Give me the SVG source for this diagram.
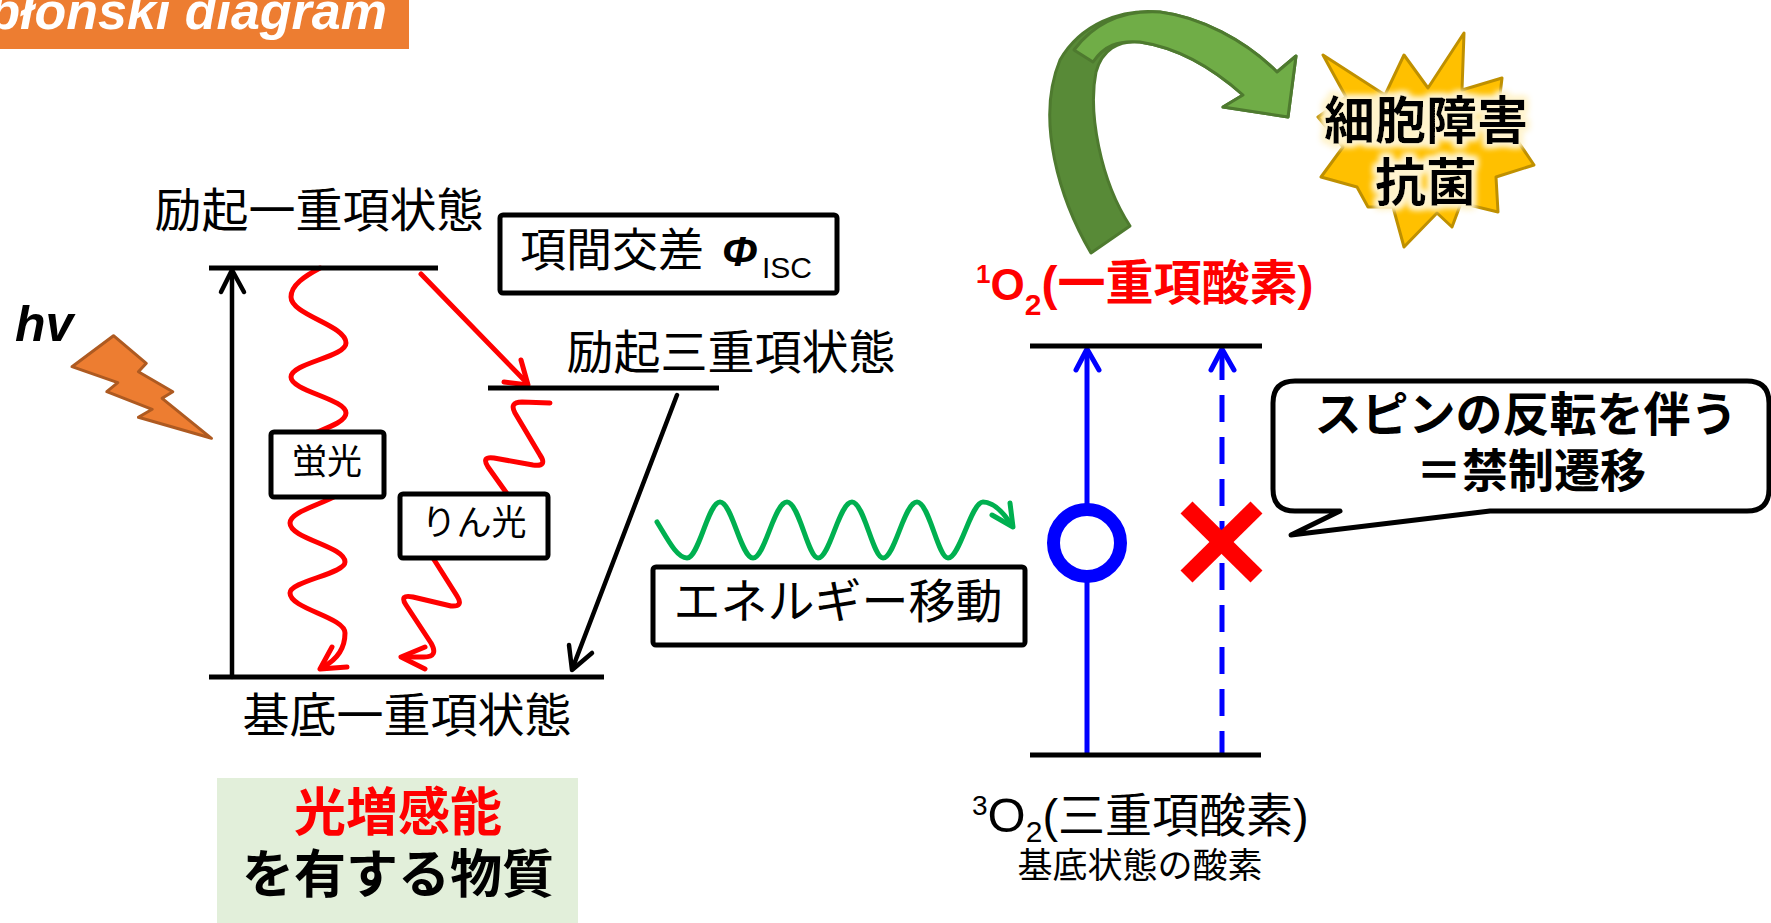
<svg xmlns="http://www.w3.org/2000/svg" width="1771" height="923" viewBox="0 0 1771 923">
  <defs>
    <style>
      .jp { font-family: "Noto Sans CJK JP", sans-serif; }
      .lat { font-family: "Liberation Sans", "Noto Sans CJK JP", sans-serif; }
      .level { stroke: #000; stroke-width: 5; fill: none; }
      .box { fill: #fff; stroke: #000; stroke-width: 5; }
      .blk { stroke: #000; stroke-width: 4.5; fill: none; stroke-linecap: round; stroke-linejoin: round; }
      .red { stroke: #FF0000; stroke-width: 5; fill: none; stroke-linecap: round; stroke-linejoin: round; }
      .blue { stroke: #0000FF; stroke-width: 5; fill: none; stroke-linejoin: round; }
      .green { stroke: #00B050; stroke-width: 5; fill: none; stroke-linecap: round; stroke-linejoin: round; }
    </style>
    <filter id="glow" x="-20%" y="-40%" width="140%" height="180%">
      <feMorphology in="SourceAlpha" operator="dilate" radius="3" result="d"/>
      <feGaussianBlur in="d" stdDeviation="3" result="b"/>
      <feFlood flood-color="#FFF4CF"/>
      <feComposite in2="b" operator="in" result="g"/>
      <feMerge>
        <feMergeNode in="g"/>
        <feMergeNode in="g"/>
        <feMergeNode in="SourceGraphic"/>
      </feMerge>
    </filter>
  </defs>

  <rect width="1771" height="923" fill="#fff"/>

  <!-- title banner -->
  <g id="banner">
    <rect x="0" y="0" width="409" height="49" fill="#ED7D31"/>
    <text x="387" y="29" text-anchor="end" class="lat" font-size="52" font-weight="700" font-style="italic" fill="#fff">Jabłonski diagram</text>
  </g>

  <!-- incoming light -->
  <g id="light">
    <text x="15" y="341" class="lat" font-size="50" font-weight="700" font-style="italic">hv</text>
    <polygon points="113.5,335.7 146.3,363.3 138.4,371.7 172.8,391.7 162.1,398.3 211.5,438.3 138.4,417.3 152.2,409.3 106.8,391.7 117.8,382.7 72,366.7" fill="#ED7D31" stroke="#AE5A21" stroke-width="3" stroke-linejoin="round"/>
  </g>

  <!-- connectors -->
  <g id="connectors">
    <!-- absorption -->
    <line x1="232" y1="677" x2="232" y2="271" class="blk"/>
    <polyline points="221,292 232,270 244,292" class="blk"/>
    <!-- intersystem crossing -->
    <line x1="421" y1="274" x2="527" y2="383" class="red" stroke-width="4.5"/>
    <polyline points="504,382 528,385 521,360" class="red" stroke-width="4.5"/>
    <!-- T1 to S0 -->
    <line x1="677" y1="395" x2="573" y2="667" class="blk"/>
    <polyline points="569,645 572,670 592,653" class="blk"/>
    <!-- fluorescence -->
    <path class="red" d="M320,268 C305,276 291,285 291,297 C291,315 346,325 346,343 C346,357 291,363 291,377 C291,391 346,399 346,413 C346,428 291,435 291,450 C291,464 346,471 346,485 C346,500 290,508 290,523 C290,539 345,546 345,562 C345,574 290,581 290,593 C290,609 345,617 345,633 C345,648 338,659 323,667"/>
    <polyline class="red" points="332,647 320,669 347,667"/>
    <!-- phosphorescence -->
    <path class="red" d="M550,403 L522,402 Q509,402 515,413 L540,455 Q548,467 533,465 L494,458 Q481,456 488,467 L520,512 L470,505 L440,545 L433,558 L457,596 Q464,607 451,606 L413,597 Q399,594 406,605 L431,643 Q439,657 424,657 L404,657"/>
    <polyline class="red" points="425,647 401,657 425,669"/>
    <!-- energy transfer -->
    <path class="green" d="M657,522 C668,540 677,558 687,558 C699,558 708,502 720,502 C732,502 741,558 753,558 C765,558 774,502 787,502 C799,502 808,558 818,558 C830,558 839,502 852,502 C864,502 873,558 883,558 C895,558 904,502 917,502 C929,502 938,558 948,558 C960,558 971,502 983,502 C993,502 1003,512 1011,524"/>
    <polyline class="green" points="1010,503 1013,527 992,515"/>
    <!-- oxygen excitation: allowed / forbidden -->
    <line x1="1087" y1="755" x2="1087" y2="350" class="blue"/>
    <polyline points="1076,370 1087,349 1099,370" class="blue" stroke-linecap="round"/>
    <line x1="1222" y1="353" x2="1222" y2="755" class="blue" stroke-dasharray="27 15"/>
    <polyline points="1211,370 1222,349 1234,370" class="blue" stroke-linecap="round"/>
    <!-- singlet oxygen effect arrow -->
    <path d="M1091,253 C1060,200 1035,120 1060,60 C1080,25 1120,8 1160,12 C1200,17 1245,40 1277,72 L1296,56 L1288,117 L1223,107 L1243,95 C1215,70 1180,48 1140,42 C1118,40 1102,50 1096,72 C1088,112 1100,180 1130,226 Z" fill="#588A37" stroke="#4E7A2F" stroke-width="3" stroke-linejoin="round"/>
    <path d="M1074,50 C1095,22 1125,10 1160,12 C1200,17 1245,40 1277,72 L1296,56 L1288,117 L1223,107 L1243,95 C1215,70 1180,48 1140,42 C1118,40 1104,46 1093,62 Z" fill="#70AD47" stroke="#4E7A2F" stroke-width="3" stroke-linejoin="round"/>
  </g>

  <!-- photosensitizer levels -->
  <g id="s1">
    <line x1="209" y1="268" x2="438" y2="268" class="level"/>
    <text x="319" y="227" text-anchor="middle" class="jp" font-size="47">励起一重項状態</text>
  </g>
  <g id="t1">
    <line x1="488" y1="388" x2="719" y2="388" class="level"/>
    <text x="731" y="369" text-anchor="middle" class="jp" font-size="47">励起三重項状態</text>
  </g>
  <g id="s0">
    <line x1="209" y1="677" x2="604" y2="677" class="level"/>
    <text x="407" y="732" text-anchor="middle" class="jp" font-size="47">基底一重項状態</text>
  </g>

  <g id="isc-label">
    <rect x="500" y="215" width="337" height="78" rx="3" class="box"/>
    <text x="520" y="266" class="jp" font-size="46">項間交差</text>
    <text x="722" y="266" class="lat" font-size="43" font-weight="700" font-style="italic">Φ</text>
    <text x="762" y="278" class="lat" font-size="30">ISC</text>
  </g>

  <g id="fluorescence-label">
    <rect x="271" y="432" width="113" height="65" rx="3" class="box"/>
    <text x="327" y="474" text-anchor="middle" class="jp" font-size="35">蛍光</text>
  </g>
  <g id="phosphorescence-label">
    <rect x="400" y="494" width="148" height="64" rx="3" class="box"/>
    <text x="474" y="535" text-anchor="middle" class="jp" font-size="35">りん光</text>
  </g>

  <g id="energy-transfer-label">
    <rect x="653" y="567" width="372" height="78" rx="3" class="box"/>
    <text x="838" y="618" text-anchor="middle" class="jp" font-size="47">エネルギー移動</text>
  </g>

  <g id="photosensitizer">
    <rect x="217" y="778" width="361" height="145" fill="#E2EFDA"/>
    <text x="398" y="831" text-anchor="middle" class="jp" font-size="52" font-weight="700" fill="#FF0000">光増感能</text>
    <text x="398" y="893" text-anchor="middle" class="jp" font-size="52" font-weight="700">を有する物質</text>
  </g>

  <!-- oxygen levels -->
  <g id="singlet-oxygen">
    <line x1="1030" y1="346" x2="1262" y2="346" class="level"/>
    <text x="976" y="300" class="lat" font-weight="700" fill="#FF0000" font-size="48"><tspan font-size="26" dy="-17">1</tspan><tspan font-size="44" dy="17">O</tspan><tspan font-size="30" dy="15">2</tspan><tspan dy="-15">(一重項酸素)</tspan></text>
  </g>
  <g id="triplet-oxygen">
    <line x1="1030" y1="755" x2="1261" y2="755" class="level"/>
    <text x="972" y="832" class="lat" font-size="47"><tspan font-size="28" dy="-17">3</tspan><tspan font-size="49" dy="17">O</tspan><tspan font-size="30" dy="10">2</tspan><tspan dy="-10">(三重項酸素)</tspan></text>
    <text x="1140" y="878" text-anchor="middle" class="jp" font-size="35">基底状態の酸素</text>
  </g>

  <g id="allowed-mark">
    <circle cx="1087" cy="543" r="33.5" fill="#fff" stroke="#0000FF" stroke-width="13"/>
  </g>
  <g id="forbidden-mark" stroke="#FF0000" stroke-width="17">
    <line x1="1186.5" y1="507.5" x2="1256.5" y2="576.5"/>
    <line x1="1186.5" y1="576.5" x2="1256.5" y2="507.5"/>
  </g>

  <g id="spin-callout">
    <path d="M1295,381 H1747 Q1769,381 1769,403 V489 Q1769,511 1747,511 H1490 L1291,535 L1340,511 H1295 Q1273,511 1273,489 V403 Q1273,381 1295,381 Z" fill="#fff" stroke="#000" stroke-width="5" stroke-linejoin="round"/>
    <text x="1526" y="431" text-anchor="middle" class="jp" font-size="47" font-weight="700">スピンの反転を伴う</text>
    <text x="1531" y="487" text-anchor="middle" class="jp" font-size="46" font-weight="700">＝禁制遷移</text>
  </g>

  <g id="effect-burst">
    <polygon points="1323,55 1385,95 1404,55 1428,88 1464,33 1462,90 1502,78 1498,112 1534,165 1496,177 1498,212 1461,203 1452,227 1437,213 1404,247 1393,207 1368,207 1357,187 1321,177 1343,147 1318,117 1346,97" fill="#FFC000" stroke="#BF9000" stroke-width="3" stroke-linejoin="round"/>
    <g filter="url(#glow)">
      <text x="1426" y="139" text-anchor="middle" class="jp" font-size="51" font-weight="700">細胞障害</text>
      <text x="1426" y="201" text-anchor="middle" class="jp" font-size="51" font-weight="700">抗菌</text>
    </g>
  </g>
</svg>
